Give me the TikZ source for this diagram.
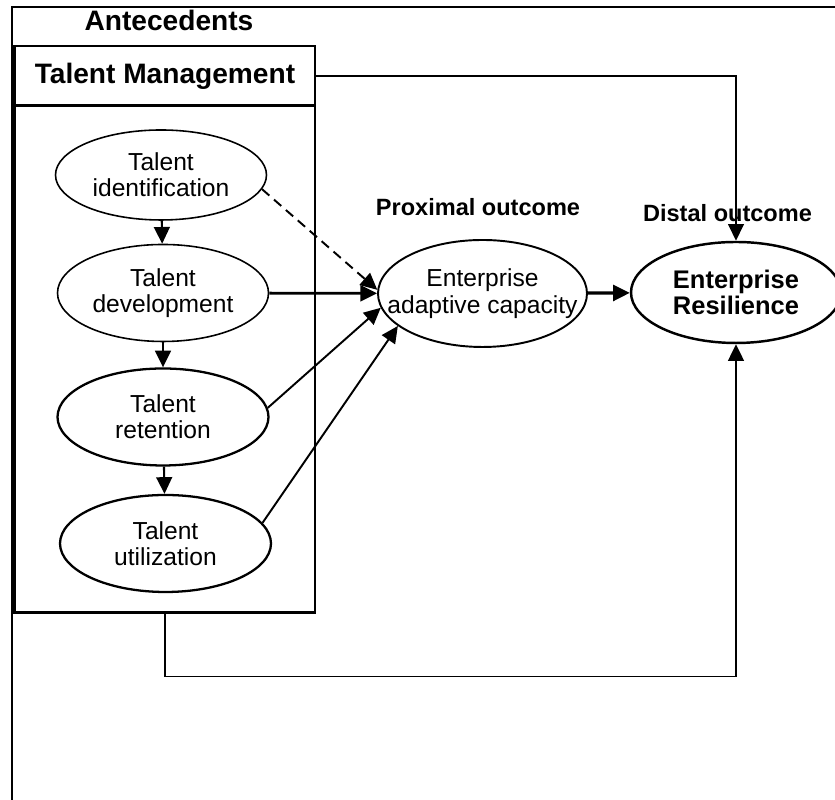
\documentclass[tikz,border=0pt]{standalone}
\usepackage{fontspec}
\setmainfont{Liberation Sans}
\usetikzlibrary{shapes.geometric,arrows.meta}

\begin{document}
\begin{tikzpicture}[
  talent/.style={ellipse,draw,inner sep=0pt,minimum width=4.22cm,minimum height=1.94cm,align=center,font=\fontsize{14}{15}\selectfont},
  arr/.style={-{Triangle[length=9.5pt,width=9pt]}},
  heading/.style={font=\bfseries\fontsize{13.4}{15}\selectfont}
]

\useasboundingbox (0,0) rectangle (16.7,16);
\draw[line width=1.1pt] (16.7,15.86) -- (0.24,15.86) -- (0.24,0);

\node[font=\bfseries\fontsize{16}{18}\selectfont](antec) at (3.38,15.6) {Antecedents};
\node[draw,line width=0.6pt,minimum width=6cm,minimum height=1.2cm,font=\bfseries\fontsize{16}{18}\selectfont](tmhead) at (3.3,14.48) {Talent Management};
\node[draw,line width=0.6pt,minimum width=6cm,minimum height=10.12cm](tmbody) at (3.3,8.82) {};
\draw[line width=1.6pt] (tmhead.north west) -- (tmbody.south west) -- (tmbody.south east);
\draw[line width=1.6pt] (tmbody.north west) -- (tmbody.north east);

\node[talent,line width=0.9pt,minimum height=1.8cm](ident) at (3.22,12.5) {Talent\\identification};
\node[talent,line width=0.9pt](devel) at (3.26,10.14) {Talent\\development};
\node[talent,line width=1.3pt](retent) at (3.26,7.66) {Talent\\retention};
\node[talent,line width=1.3pt](util) at (3.31,5.13) {Talent\\utilization};

\node[talent,line width=1.1pt,inner xsep=-0.5cm,minimum width=4.18cm,minimum height=2.14cm](adapt) at (9.65,10.13) {Enterprise\\adaptive capacity};
\node[talent,line width=1.4pt,minimum width=4.2cm,minimum height=2.02cm,font=\bfseries\fontsize{14.5}{14.5}\selectfont](resil) at (14.72,10.15) {Enterprise\\Resilience};

\node[heading](prox) at (9.56,11.86) {Proximal outcome};
\node[heading](dist) at (14.55,11.74) {Distal outcome};

% within talent management
\draw[arr,line width=1.2pt] (ident) -- (devel);
\draw[arr,line width=1.2pt] (devel) -- (retent);
\draw[arr,line width=1.2pt] (retent) -- (util);

% towards adaptive capacity
\draw[arr,line width=1.1pt,dash pattern=on 5.5pt off 3.5pt] (ident.-8) -- (adapt.178);
\draw[arr,line width=1.6pt] (devel) -- (adapt);
\draw[arr,line width=1.1pt] (retent.5) -- (adapt.188);
\draw[arr,line width=1.1pt] (util.12) -- (adapt.201);
\draw[arr,line width=1.8pt] (adapt) -- (resil);

\draw[arr,line width=0.8pt] (tmhead) -| (resil);
\draw[arr,line width=1.1pt] (tmbody.south) -- ++(0,-1.28) -| (resil);

\end{tikzpicture}
\end{document}
